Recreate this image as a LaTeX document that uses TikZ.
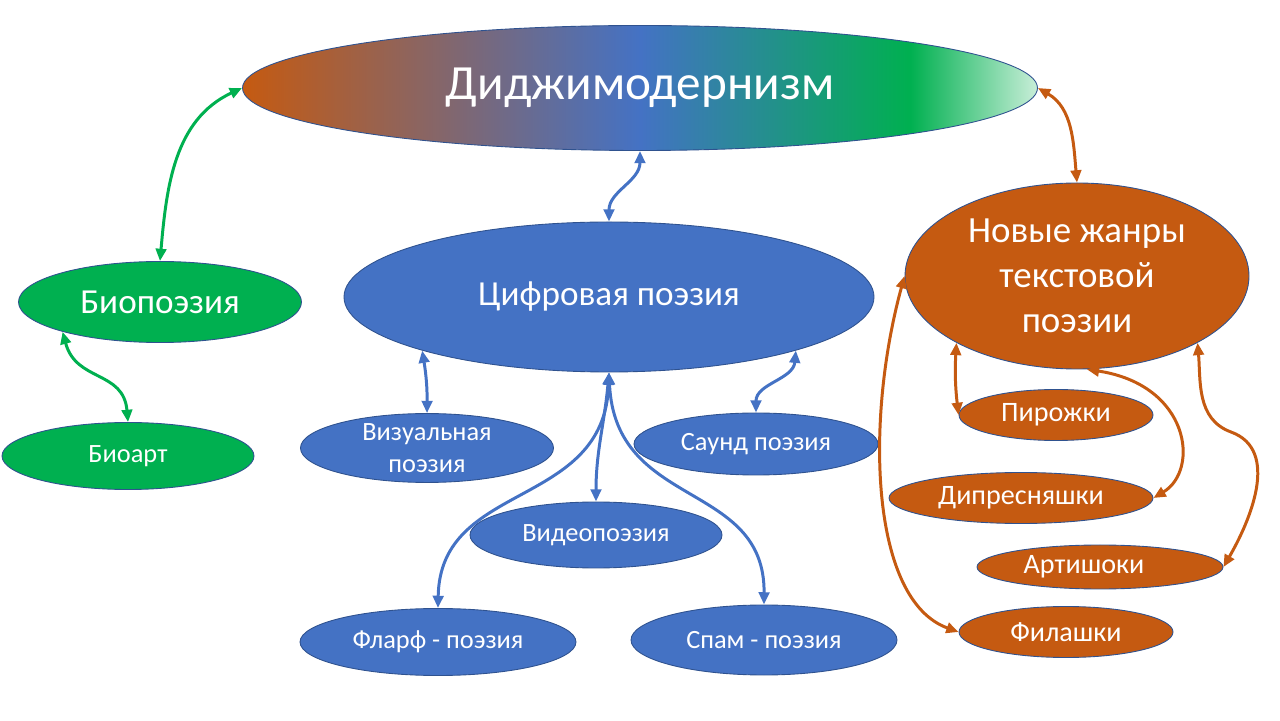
\documentclass[tikz,border=0pt]{standalone}
\usepackage{fontspec}
\setmainfont{Carlito}
\usetikzlibrary{arrows.meta,shapes.geometric}

\definecolor{dmorange}{HTML}{C55A11}
\definecolor{dmblue}{HTML}{4472C4}
\definecolor{dmgreen}{HTML}{00B050}
\definecolor{dmlight}{HTML}{C8EED8}
\definecolor{dmedge}{HTML}{2F528F}

\pgfdeclarehorizontalshading{digishade}{100bp}{color(0bp)=(dmorange); color(25bp)=(dmorange);
  color(50bp)=(dmblue); color(67bp)=(dmgreen); color(75bp)=(dmlight); color(100bp)=(dmlight)}

\tikzset{
  oval/.style={ellipse, draw=dmedge, line width=0.5pt, inner sep=0pt, text=white, align=center},
  greenoval/.style={oval, fill=dmgreen},
  blueoval/.style={oval, fill=dmblue},
  orangeoval/.style={oval, fill=dmorange},
  link/.style={{Triangle[length=7pt,width=6pt]}-{Triangle[length=7pt,width=6pt]}, line width=1.7pt},
}

\begin{document}
\begin{tikzpicture}
    \useasboundingbox (0,0) rectangle (25.6,14.4);

    % Главный эллипс
    \node[oval, shading=digishade, minimum width=15.9cm, minimum height=2.5cm,
        font=\fontsize{28}{34}\selectfont] (dm) at (12.8,12.64) {Диджимодернизм};

    % Биопоэзия
    \node[greenoval, minimum width=5.66cm, minimum height=1.62cm,
        font=\fontsize{20}{24}\selectfont] (bio) at (3.2,8.36) {Биопоэзия};
    \node[greenoval, minimum width=5.04cm, minimum height=1.34cm,
        font=\fontsize{15}{18}\selectfont] (bioart) at (2.56,5.28) {Биоарт};

    % Цифровая поэзия
    \node[blueoval, minimum width=10.6cm, minimum height=3cm,
        font=\fontsize{20}{24}\selectfont] (cifr) at (12.18,8.46) {Цифровая поэзия};
    \begin{scope}[every node/.style={blueoval, minimum height=1.32cm, font=\fontsize{15}{18}\selectfont}]
        \node[minimum width=5.06cm] (vis) at (8.54,5.44) {Визуальная\\поэзия};
        \node[minimum width=4.88cm, minimum height=1.24cm] (sound) at (15.12,5.52) {Саунд поэзия};
        \node[minimum width=5.04cm] (video) at (11.92,3.70) {Видеопоэзия};
        \node[minimum width=5.52cm, minimum height=1.34cm] (flarf) at (8.76,1.56) {Фларф - поэзия};
        \node[minimum width=5.32cm, minimum height=1.4cm] (spam) at (15.28,1.60) {Спам - поэзия};
    \end{scope}

    % Новые жанры
    \node[orangeoval, minimum width=6.88cm, minimum height=3.72cm,
        font=\fontsize{21}{25.6}\selectfont] (nov) at (21.54,8.88) {Новые жанры\\текстовой\\поэзии};
    \begin{scope}[every node/.style={orangeoval, minimum height=1.02cm, font=\fontsize{16}{19}\selectfont}]
        \node[minimum width=3.88cm] (pir) at (21.12,6.10) {Пирожки};
        \node[minimum width=5.28cm] (dip) at (20.42,4.44) {Дипресняшки};
        \node[minimum width=4.92cm, minimum height=0.88cm] (art) at (22.0,3.06) {\hspace*{-0.64cm}Артишоки};
        \node[minimum width=4.28cm] (fil) at (21.32,1.76) {Филашки};
    \end{scope}

    % Связи
    \draw[link, dmgreen] (dm.west) to[out=205, in=85] (bio.north);
    \draw[link, dmgreen] (bio.197) to[out=-75, in=95, looseness=1.2] (bioart.north);

    \draw[link, dmblue] (dm.south) to[out=-90, in=90] (cifr.north);
    \draw[link, dmblue] (cifr.196) to[bend left=5] (vis.north);
    \draw[link, dmblue] (cifr.-16) to[out=-95, in=90] (sound.north);
    \draw[link, dmblue] (cifr.south) .. controls (12.1,4.2) and (8.8,4.8) .. (flarf.north);
    \draw[link, dmblue] (cifr.south) to[out=-95, in=90] (video.north);
    \draw[link, dmblue] (cifr.south) .. controls (12.3,4.2) and (15.3,4.8) .. (spam.north);

    \draw[link, dmorange] (dm.east) to[out=-30, in=95] (nov.north);
    \draw[link, dmorange] (nov.209) to[bend right=5] (pir.west);
    \draw[link, dmorange] (nov.-84) .. controls (23.8,6.7) and (24.0,5.0) .. (dip.east);
    \draw[link, dmorange] (nov.-29) to[out=-85, in=160] (24.62,5.76) to[out=-20, in=60] (art.east);
    \draw[link, dmorange] (nov.west) .. controls (17.3,6.0) and (17.4,2.4) .. (fil.west);
\end{tikzpicture}
\end{document}
